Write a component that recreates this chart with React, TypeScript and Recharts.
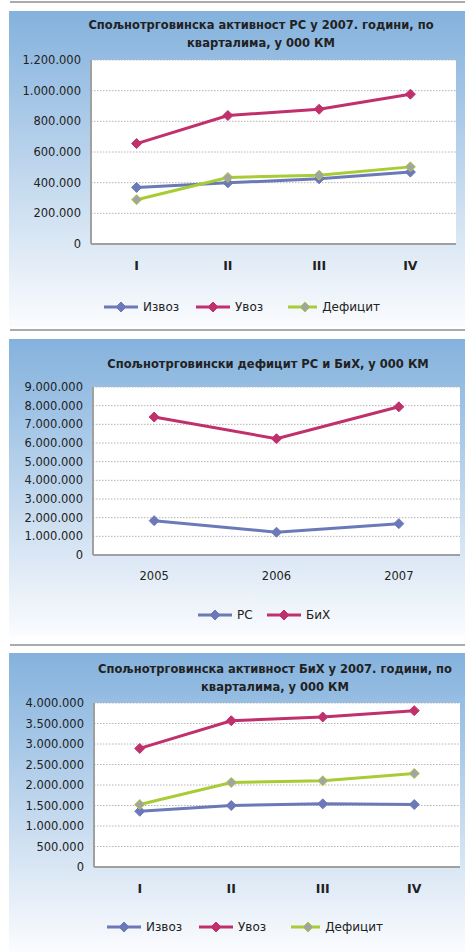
import { LineChart, Line, XAxis, YAxis, CartesianGrid, Legend } from "recharts";

// РС по кварталима 2007
const quarters = ["I", "II", "III", "IV"];
const rsExport = [369000, 399000, 425000, 469000];
const rsImport = [655000, 838000, 879000, 977000];
const rsDeficit = [289000, 434000, 449000, 503000];
const rsTicks = [0, 200000, 400000, 600000, 800000, 1000000, 1200000];

// дефицит РС и БиХ по годинама
const years = ["2005", "2006", "2007"];
const rsDeficitYears = [1840000, 1220000, 1680000];
const bihDeficitYears = [7390000, 6230000, 7940000];
const yearTicks = [0, 1000000, 2000000, 3000000, 4000000, 5000000, 6000000, 7000000, 8000000, 9000000];

// БиХ по кварталима 2007
const bihExport = [1360000, 1499000, 1540000, 1523000];
const bihImport = [2892000, 3568000, 3658000, 3813000];
const bihDeficit = [1523000, 2061000, 2102000, 2281000];
const bihTicks = [0, 500000, 1000000, 1500000, 2000000, 2500000, 3000000, 3500000, 4000000];

const BLUE = "#6b79b9";
const RED = "#c0306d";
const GREEN = "#a8cc35";
const FONT = "'DejaVu Sans', Verdana, sans-serif";

const fmt = (v: number) => String(v).replace(/\B(?=(\d{3})+(?!\d))/g, ".");

// eslint-disable-next-line @typescript-eslint/no-explicit-any
const Diamond = (props: any) => {
  const { cx, cy, fill, stroke, r = 5 } = props;
  if (cx == null || cy == null) return null;
  return (
    <path
      d={`M${cx},${cy - r}L${cx + r},${cy}L${cx},${cy + r}L${cx - r},${cy}Z`}
      fill={fill}
      stroke={stroke}
      strokeWidth={1}
    />
  );
};

interface Series {
  key: string;
  name: string;
  color: string;
  marker: string;
}

const quarterSeries: Series[] = [
  { key: "exp", name: "Извоз", color: BLUE, marker: BLUE },
  { key: "imp", name: "Увоз", color: RED, marker: RED },
  { key: "def", name: "Дефицит", color: GREEN, marker: "#a3a3a3" },
];

const yearSeries: Series[] = [
  { key: "rs", name: "РС", color: BLUE, marker: BLUE },
  { key: "bih", name: "БиХ", color: RED, marker: RED },
];

const rsData = quarters.map((q, i) => ({ cat: q, exp: rsExport[i], imp: rsImport[i], def: rsDeficit[i] }));
const yearData = years.map((y, i) => ({ cat: y, rs: rsDeficitYears[i], bih: bihDeficitYears[i] }));
const bihData = quarters.map((q, i) => ({ cat: q, exp: bihExport[i], imp: bihImport[i], def: bihDeficit[i] }));

interface PanelProps {
  top: number;
  height: number;
  title: string[];
  titleCx: number;
  titleY: number;
  // eslint-disable-next-line @typescript-eslint/no-explicit-any
  data: any[];
  series: Series[];
  ticks: number[];
  plot: { left: number; right: number; top: number; bottom: number };
  legend: { left: number; y: number; itemWidth: number };
  boldCats?: boolean;
}

const PANEL_LEFT = 9;
const PANEL_WIDTH = 456;

function ChartPanel({ top, height, title, titleCx, titleY, data, series, ticks, plot, legend, boldCats }: PanelProps) {
  const plotWidth = plot.right - plot.left;
  const pad = plotWidth / (2 * data.length);

  const LegendContent = () => (
    <div style={{ display: "flex", alignItems: "center", height: 16, fontFamily: FONT, fontSize: 12, color: "#222" }}>
      {series.map((s) => (
        <div key={s.key} style={{ width: legend.itemWidth, display: "flex", alignItems: "center", whiteSpace: "nowrap" }}>
          <svg width={34} height={12}>
            <line x1={0} x2={34} y1={6} y2={6} stroke={s.color} strokeWidth={3} />
            <Diamond cx={17} cy={6} r={5} fill={s.marker} stroke={s.color} />
          </svg>
          <span style={{ marginLeft: 5 }}>{s.name}</span>
        </div>
      ))}
    </div>
  );

  return (
    <div
      style={{
        position: "absolute",
        left: PANEL_LEFT,
        top,
        width: PANEL_WIDTH,
        height,
        background: "linear-gradient(180deg, #84b2dd 0%, #a6c7e7 30%, #d2e2f2 66%, #fbfcfe 100%)",
      }}
    >
      <LineChart
        width={PANEL_WIDTH}
        height={height}
        data={data}
        margin={{ top: plot.top - top, right: PANEL_LEFT + PANEL_WIDTH - plot.right, bottom: 0, left: 0 }}
        style={{ position: "absolute", left: 0, top: 0 }}
      >
        <CartesianGrid vertical={false} stroke="#b5b5b5" strokeDasharray="1.5 1.5" fill="#ffffff" />
        <XAxis
          dataKey="cat"
          height={top + height - plot.bottom}
          padding={{ left: pad, right: pad }}
          tickLine={false}
          tickSize={0}
          tickMargin={17}
          axisLine={{ stroke: "#a0a0a0", strokeWidth: 2 }}
          tick={{ fill: "#222", fontSize: boldCats ? 12.5 : 11.5, fontWeight: boldCats ? "bold" : "normal", fontFamily: FONT }}
        />
        <YAxis
          width={plot.left - PANEL_LEFT}
          domain={[ticks[0], ticks[ticks.length - 1]]}
          ticks={ticks}
          interval={0}
          tickFormatter={fmt}
          tickLine={false}
          tickSize={0}
          tickMargin={10}
          axisLine={{ stroke: "#a0a0a0", strokeWidth: 2 }}
          tick={{ fill: "#222", fontSize: 11.5, fontFamily: FONT }}
        />
        <Legend
          verticalAlign="middle"
          layout="horizontal"
          content={LegendContent}
          wrapperStyle={{ top: legend.y - top - 8, left: legend.left - PANEL_LEFT, width: "auto", height: 16 }}
        />
        {series.map((s) => (
          <Line
            key={s.key}
            dataKey={s.key}
            name={s.name}
            type="linear"
            stroke={s.color}
            strokeWidth={3}
            isAnimationActive={false}
            activeDot={false}
            // eslint-disable-next-line @typescript-eslint/no-explicit-any
            dot={(p: any) => <Diamond key={`${s.key}-${p.index}`} cx={p.cx} cy={p.cy} r={5} fill={s.marker} stroke={s.color} />}
          />
        ))}
      </LineChart>
      <div
        style={{
          position: "absolute",
          left: titleCx - PANEL_LEFT - 215,
          width: 430,
          top: titleY - top - 9,
          textAlign: "center",
          fontFamily: FONT,
          fontWeight: "bold",
          fontSize: 11.5,
          lineHeight: "18px",
          color: "#222",
          zIndex: 2,
        }}
      >
        {title.map((t) => (
          <div key={t}>{t}</div>
        ))}
      </div>
    </div>
  );
}

const Separator = ({ y }: { y: number }) => (
  <div style={{ position: "absolute", left: 10, top: y, width: 455, height: 2, background: "#ababab" }} />
);

export default function App() {
  return (
    <div style={{ position: "absolute", left: 0, top: 0, width: 465, height: 952, overflow: "hidden", background: "#fff" }}>
      <Separator y={1} />
      <ChartPanel
        top={11}
        height={316}
        title={["Спољнотрговинска активност РС у 2007. години, по", "кварталима, у 000 КМ"]}
        titleCx={261}
        titleY={25}
        data={rsData}
        series={quarterSeries}
        ticks={rsTicks}
        plot={{ left: 91, right: 456, top: 60, bottom: 244 }}
        legend={{ left: 104, y: 307, itemWidth: 92 }}
        boldCats
      />
      <Separator y={329} />
      <ChartPanel
        top={339}
        height={298}
        title={["Спољнотрговински дефицит РС и БиХ, у 000 КМ"]}
        titleCx={268}
        titleY={364}
        data={yearData}
        series={yearSeries}
        ticks={yearTicks}
        plot={{ left: 93, right: 460, top: 387, bottom: 555 }}
        legend={{ left: 198, y: 615, itemWidth: 69 }}
      />
      <Separator y={644} />
      <ChartPanel
        top={653}
        height={299}
        title={["Спољнотрговинска активност БиХ у 2007. години, по", "кварталима, у 000 КМ"]}
        titleCx={275}
        titleY={669}
        data={bihData}
        series={quarterSeries}
        ticks={bihTicks}
        plot={{ left: 94, right: 460, top: 703, bottom: 867 }}
        legend={{ left: 107, y: 927, itemWidth: 92 }}
        boldCats
      />
    </div>
  );
}
